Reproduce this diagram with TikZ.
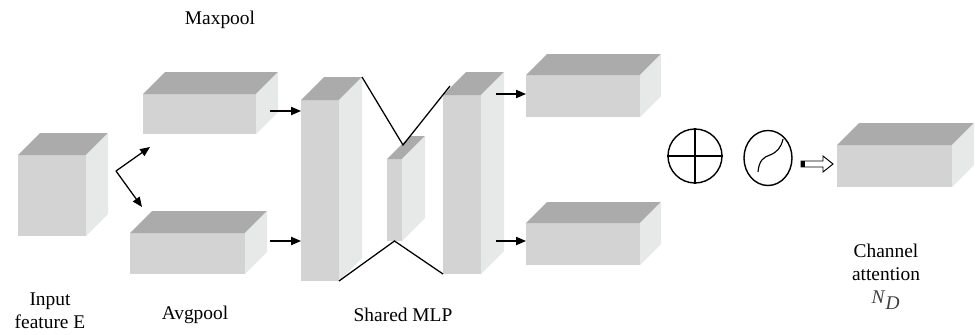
\documentclass[tikz,border=0pt]{standalone}
\usepackage{fontspec}
\setmainfont{Liberation Serif}
\usetikzlibrary{arrows.meta,positioning,calc,shapes.geometric}
\definecolor{FaceFront}{RGB}{211,211,211}
\definecolor{FaceTop}{RGB}{171,171,171}
\definecolor{FaceSide}{RGB}{231,233,233}

% cuboid: name, front face (x1,y1)-(x2,y2), depth
\newcommand{\cuboid}[6]{%
 \fill[FaceFront] (#2,#3) rectangle (#4,#5);
 \fill[FaceTop] (#2,#3) -- ++(#6,-#6) -- ++(#4-#2,0) -- (#4,#3) -- cycle;
 \fill[FaceSide] (#4,#3) -- ++(#6,-#6) -- ++(0,#5-#3) -- (#4,#5) -- cycle;
 \coordinate (#1-nw) at (#2,#3);
 \coordinate (#1-ne) at (#4,#3);
 \coordinate (#1-sw) at (#2,#5);
 \coordinate (#1-se) at (#4,#5);
 \coordinate (#1-back) at ($(#1-ne)+(#6,-#6)$);
}

\begin{document}
\begin{tikzpicture}[x=0.025cm,y=-0.025cm,
 lbl/.style={font=\fontsize{13.8}{16.4}\selectfont,align=center,inner sep=0},
 arr/.style={line width=0.9pt,-{Triangle[length=7pt,width=5.8pt]}},
 mlp/.style={line width=0.9pt}]
\useasboundingbox (0,0) rectangle (976,335);

\foreach \nm/\xa/\ya/\xb/\yb/\d in {in/18/155/86/236/22, mp/143/94/256/134/22,
 ap/130/233/245/274/22, b1/301/100/339/281/23, sm/387/159/402/241/23,
 b2/443/95/481/274/23, r1/526/75/640/117/21, r2/526/223/640/265/21,
 out/837/145/952/187/22}
 \cuboid{\nm}{\xa}{\ya}{\xb}{\yb}{\d};

% pooling branches
\coordinate (split) at (116,171);
\draw[arr] (split) -- ($(mp-sw)+(7,13)$);
\draw[arr] (split) -- ($(ap-nw)+(12,-26)$);
\coordinate (mp-out) at (270,111);
\coordinate (ap-out) at (270,241);
\draw[arr] (mp-out) -- (mp-out -| b1-nw);
\draw[arr] (ap-out) -- (ap-out -| b1-nw);

% shared MLP
\draw[mlp] (b1-back) -- ($(sm-nw)+(16,-14)$) -- ($(b2-nw)+(7,-9)$);
\draw[mlp] (b1-se) -- ($(sm-sw)!0.5!(sm-se)$) -- (b2-sw);
\coordinate (b2-out1) at (496,94);
\coordinate (b2-out2) at (496,241);
\draw[arr] (b2-out1) -- (b2-out1 -| r1-nw);
\draw[arr] (b2-out2) -- (b2-out2 -| r2-nw);

% sum and sigmoid
\node[draw,circle,line width=1pt,minimum size=1.35cm,inner sep=0] (sum) at (695,156) {};
\draw[line width=1.1pt] (sum.north) -- (sum.south) (sum.west) -- (sum.east);
\node[draw,ellipse,line width=1pt,minimum width=1.2cm,minimum height=1.375cm,inner sep=0] (sig) at (768,158) {};
\draw[line width=0.8pt] ($(sig)+(-10,14)$) .. controls ($(sig)+(-9,2)$) and ($(sig)+(-4,-1)$) .. ($(sig)+(2,-3)$)
 .. controls ($(sig)+(9,-6)$) and ($(sig)+(13,-10)$) .. ($(sig)+(15,-19)$);
\coordinate (hollow) at (801,164);
\draw[line width=0.7pt,fill=white] (hollow) ++(0,-3) -- ++(22,0) -- ++(0,-5) -- ++(10,8)
 -- ++(-10,8) -- ++(0,-5) -- ++(-22,0) -- cycle;
\fill (hollow) ++(0,-3) rectangle ++(4,6);

% labels
\node[lbl] (t-in) at (50,311) {Input\\feature E};
\node[lbl] (t-mp) at (220,20) {Maxpool};
\node[lbl] (t-ap) at (195,315) {Avgpool};
\node[lbl] (t-mlp) at (403,315) {Shared MLP};
\node[lbl] (t-ca) at (886,262) {Channel\\attention};
\node[lbl,text=black!75] (t-nd) at (886,300) {\textit{N}$_{\textit{D}}$};
\end{tikzpicture}
\end{document}
